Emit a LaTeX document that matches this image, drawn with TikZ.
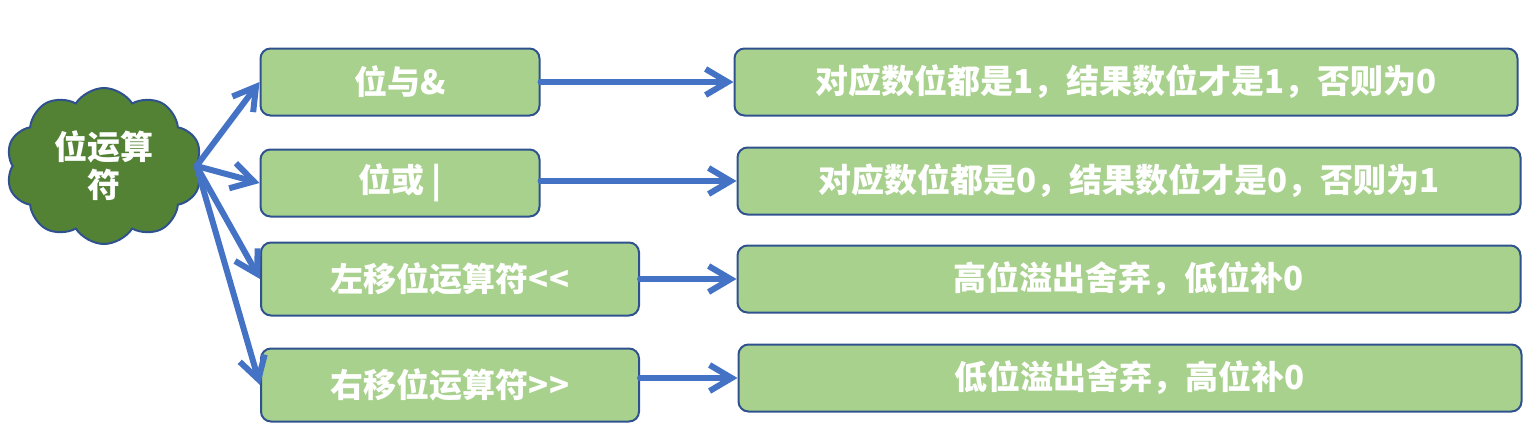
\documentclass[tikz,border=0pt]{standalone}
\usepackage{fontspec}
\setmainfont{Noto Sans CJK SC}
\usetikzlibrary{shapes,arrows.meta,positioning}
\definecolor{boxgreen}{HTML}{A9D18E}
\definecolor{cloudgreen}{HTML}{548235}
\definecolor{edgeblue}{HTML}{2F528F}
\definecolor{arrowblue}{HTML}{4472C4}

\begin{document}
\begin{tikzpicture}[x=0.5pt, y=-0.5pt,
    op/.style={cloud, cloud puffs=10, cloud puff arc=115, aspect=1.3, draw=edgeblue, line width=1pt, fill=cloudgreen, minimum width=98pt, minimum height=78pt, text=white, font=\fontsize{16.5}{19}\selectfont\bfseries, align=center, inner sep=0pt},
    block/.style={rectangle, rounded corners=5pt, draw=edgeblue, line width=1pt, fill=boxgreen, minimum height=33.5pt, text=white, font=\fontsize{16.5}{19}\selectfont\bfseries},
    arrow/.style={-{Straight Barb[length=11pt,width=13pt]}, line width=3pt, draw=arrowblue, line cap=round}]

\useasboundingbox (0,0) rectangle (1532,435);

% Cloud
\node[op] (op) at (104,166) {位运算\\符};

% Operators
\node[block, minimum width=139.5pt] (and) at (400,82) {位与\&};
\node[block, minimum width=139.5pt] (or) at (400,183) {位或 |};
\node[block, minimum width=189pt, minimum height=36.5pt] (shl) at (450,279) {左移位运算符<{}<};
\node[block, minimum width=189pt, minimum height=36.5pt] (shr) at (450,385) {右移位运算符>{}>};

% Results
\node[block, minimum width=391.5pt] (res1) at (1126,82) {对应数位都是1，结果数位才是1，否则为0};
\node[block, minimum width=391.5pt] (res2) at (1129,181) {对应数位都是0，结果数位才是0，否则为1};
\node[block, minimum width=391.5pt] (res3) at (1129,279) {高位溢出舍弃，低位补0};
\node[block, minimum width=391.5pt] (res4) at (1130,378) {低位溢出舍弃，高位补0};

% Connections
\draw[arrow] (op.east) -- (and.west);
\draw[arrow] (op.east) -- (or.west);
\draw[arrow] (op.east) -- (shl.west);
\draw[arrow] (op.east) -- (shr.west);
\draw[arrow] (and.east) -- (res1.west);
\draw[arrow] (or.east |- res2.west) -- (res2.west);
\draw[arrow] (shl.east |- res3.west) -- (res3.west);
\draw[arrow] (shr.east |- res4.west) -- (res4.west);
\end{tikzpicture}
\end{document}
